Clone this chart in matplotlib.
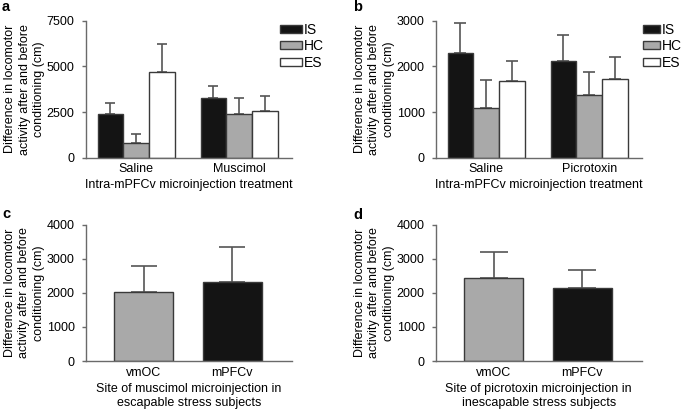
import matplotlib
matplotlib.use("Agg")
import matplotlib.pyplot as plt
import numpy as np

plt.rcParams['font.family'] = ['Liberation Sans', 'DejaVu Sans']
plt.rcParams['font.size'] = 9

# ---- data ----
groups_a = ["Saline", "Muscimol"]
groups_b = ["Saline", "Picrotoxin"]
series = ["IS", "HC", "ES"]
a_means = {"IS": [2390, 3285], "HC": [820, 2390], "ES": [4670, 2540]}
a_errs = {"IS": [585, 640], "HC": [495, 860], "ES": [1570, 840]}
b_means = {"IS": [2285, 2125], "HC": [1095, 1365], "ES": [1685, 1715]}
b_errs = {"IS": [670, 570], "HC": [615, 510], "ES": [425, 495]}

sites = ["vmOC", "mPFCv"]
c_means = [2025, 2325]
c_errs = [770, 1025]
d_means = [2425, 2130]
d_errs = [760, 555]

ylabel = "Difference in locomotor\nactivity after and before\nconditioning (cm)"
colors = {"IS": "#141414", "HC": "#a9a9a9", "ES": "#ffffff"}
edge = "#3a3a3a"
ecol = "#555555"
spine_col = "#6a6a6a"

W, H = 685, 411
fig = plt.figure(figsize=(W / 100, H / 100), dpi=100)


def px_axes(l, r, t, b):
    return fig.add_axes([l / W, 1 - b / H, (r - l) / W, (b - t) / H])


def style(ax):
    for s in ["top", "right"]:
        ax.spines[s].set_visible(False)
    for s in ["left", "bottom"]:
        ax.spines[s].set_color(spine_col)
        ax.spines[s].set_linewidth(1.0)
    ax.tick_params(axis='y', direction='out', length=3, width=1, color=spine_col, pad=5)
    ax.tick_params(axis='x', length=0, pad=4)
    ax.set_ylabel(ylabel, linespacing=1.3, labelpad=1)


def grouped(ax, groups, means, errs, ymax, step, xlabel, capsize, leg_anchor, hl):
    x = np.arange(len(groups))
    w = 0.25
    for i, s in enumerate(series):
        xs = x + (i - 1) * w
        ax.bar(xs, means[s], w, color=colors[s], edgecolor=edge, linewidth=1.0,
               label=s, zorder=2)
        ax.errorbar(xs, means[s], yerr=[np.zeros(len(groups)), errs[s]], fmt='none',
                    ecolor=ecol, elinewidth=1.2, capsize=capsize, capthick=1.2, zorder=1)
    ax.set_xlim(-0.49, 1.51)
    ax.set_ylim(0, ymax)
    ax.set_yticks(np.arange(0, ymax + 1, step))
    ax.set_xticks(x)
    ax.set_xticklabels(groups)
    ax.set_xlabel(xlabel, labelpad=3)
    style(ax)
    ax.legend(loc='upper left', bbox_to_anchor=(leg_anchor[0] / W, 1 - leg_anchor[1] / H),
              bbox_transform=fig.transFigure, frameon=False, borderpad=0, borderaxespad=0,
              handlelength=hl, handleheight=0.5, labelspacing=0.19, handletextpad=0.12,
              fontsize=10)


def pair(ax, means, errs, xlabel, capsize):
    x = np.arange(len(sites))
    ax.bar(x, means, 0.667, color=[colors["HC"], colors["IS"]], edgecolor=edge,
           linewidth=1.0, zorder=2)
    ax.errorbar(x, means, yerr=[np.zeros(len(sites)), errs], fmt='none', ecolor=ecol,
                elinewidth=1.2, capsize=capsize, capthick=1.2, zorder=1)
    ax.set_xlim(-0.657, 1.673)
    ax.set_ylim(0, 4000)
    ax.set_yticks(np.arange(0, 4001, 1000))
    ax.set_xticks(x)
    ax.set_xticklabels(sites)
    ax.set_xlabel(xlabel, labelpad=3, linespacing=1.25)
    style(ax)


ax_a = px_axes(85.7, 291.7, 20.7, 157.7)
grouped(ax_a, groups_a, a_means, a_errs, 7500, 2500,
        "Intra-mPFCv microinjection treatment", 3.3, (280, 22.5), 1.58)
ax_b = px_axes(435.7, 641.7, 20.7, 157.7)
grouped(ax_b, groups_b, b_means, b_errs, 3000, 1000,
        "Intra-mPFCv microinjection treatment", 4.3, (643, 22.5), 1.22)
ax_c = px_axes(85.7, 291.7, 224.7, 361)
pair(ax_c, c_means, c_errs,
     "Site of muscimol microinjection in\nescapable stress subjects", 9.7)
ax_d = px_axes(435.7, 641.7, 224.7, 361)
pair(ax_d, d_means, d_errs,
     "Site of picrotoxin microinjection in\ninescapable stress subjects", 10.4)

for lab, (px, py) in zip("abcd", [(2, 0), (353, 0), (2, 207), (353, 208)]):
    fig.text(px / W, 1 - py / H, lab, fontsize=10.5, fontweight='bold', va='top', ha='left')

fig.savefig("out.png", dpi=100)
